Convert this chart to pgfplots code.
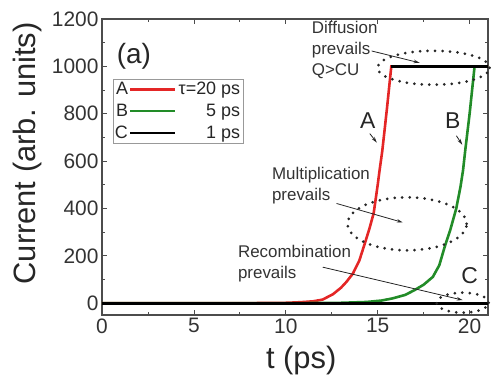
\documentclass[border=0pt]{standalone}
\usepackage{fontspec}
\setmainfont{Liberation Sans}
\usepackage{pgfplots}
\pgfplotsset{compat=1.18}
\usetikzlibrary{arrows.meta}
\definecolor{cA}{RGB}{228,38,38}
\definecolor{cB}{RGB}{34,140,40}
\begin{document}
\begin{tikzpicture}
\begin{axis}[
 scale only axis, width=386bp, height=296bp,
 xmin=0, xmax=21, ymin=-50, ymax=1200,
 xtick={0,5,10,15,20}, ytick={0,200,400,600,800,1000,1200},
 minor x tick num=1, minor y tick num=1,
 tick align=inside, major tick length=5bp, minor tick length=3bp,
 axis line style={line width=1.2bp, draw=black!70},
 every tick/.style={black!70, line width=0.8bp},
 tick label style={font=\fontsize{21}{24}\selectfont, text=black!80},
 /pgf/number format/assume math mode=true,
 /pgf/number format/1000 sep={},
 xlabel={t (ps)}, ylabel={Current (arb. units)},
 label style={font=\fontsize{31}{34}\selectfont, text=black!85},
 xlabel style={at={(axis description cs:0.516,-0.155)}, anchor=center},
 ylabel style={at={(axis description cs:-0.194,0.546)}, anchor=center},
 clip=false,
 legend style={at={(axis cs:0.58,947)}, anchor=north west, draw=black!40, line width=0.6bp,
   font=\fontsize{18}{20}\selectfont, inner sep=1bp, row sep=4bp, text=black!85},
 legend cell align=right,
]
\addplot[cA, line width=2.6bp, legend image code/.code={\node[anchor=east, text=black!85, inner sep=1bp, font=\fontsize{18}{20}\selectfont] at (0bp,0bp) {A}; \draw[cA, line width=2.6bp] (0bp,0bp) -- (45bp,0bp);}] coordinates {
(0,0) (9,0.5) (10,1.5) (10.5,3) (11,5) (11.5,8) (12,15) (12.57,38) (13,65) (13.3,90) (13.65,125) (14,180) (14.33,260) (14.55,315) (14.78,380) (15.0,500) (15.1,560) (15.25,644) (15.5,820) (15.74,1000) (21,1000)};
\addlegendentry{τ=20 ps}
\addplot[cB, line width=2.6bp, legend image code/.code={\node[anchor=east, text=black!85, inner sep=1bp, font=\fontsize{18}{20}\selectfont] at (0bp,0bp) {B}; \draw[cB, line width=2.6bp] (0bp,0bp) -- (45bp,0bp);}] coordinates {
(0,0) (12,0.5) (13,1.5) (14.4,5) (15.2,11) (15.8,20) (16.5,35) (17,55) (17.5,78) (18,111) (18.35,160) (18.64,237) (18.95,310) (19.27,399) (19.5,490) (19.64,560) (19.76,644) (20,800) (20.27,1000) (21,1000)};
\addlegendentry{5 ps}
\addplot[black, line width=3bp, legend image code/.code={\node[anchor=east, text=black!85, inner sep=1bp, font=\fontsize{18}{20}\selectfont] at (0bp,0bp) {C}; \draw[black, line width=2.6bp] (0bp,0bp) -- (45bp,0bp);}] coordinates {(0,0) (21,0)};
\addlegendentry{1 ps}
\addplot[black, line width=2.6bp, forget plot] coordinates {(15.74,1000) (21,1000)};
% annotations
\tikzset{dots/.style={line width=3bp, dash pattern=on 0bp off 7.5bp, line cap=round, black!85},
  ann/.style={font=\fontsize{17}{21}\selectfont, align=left, text=black!80, inner sep=0pt},
  arr/.style={black!85, line width=0.8bp, -{Stealth[length=6bp,width=3.5bp]}}}
\node[font=\fontsize{28}{30}\selectfont, text=black!85] at (axis cs:1.74,1044) {(a)};
\draw[dots] (axis cs:18.04,994) ellipse [x radius=56bp, y radius=17bp];
\draw[dots] (axis cs:16.6,335) ellipse [x radius=59.5bp, y radius=26.5bp];
\draw[dots] (axis cs:19.62,2) ellipse [x radius=26bp, y radius=10bp];
\node[ann, anchor=north west] at (axis cs:11.41,1192) {Diffusion\\prevails\\Q>CU};
\draw[arr] (axis cs:14.67,1065) -- (axis cs:17.28,1015);
\node[ann, anchor=north west] at (axis cs:9.24,573) {Multiplication\\prevails};
\draw[arr] (axis cs:12.76,421) -- (axis cs:16.36,341);
\node[ann, anchor=north west] at (axis cs:7.39,244) {Recombination\\prevails};
\draw[arr] (axis cs:12.01,152) -- (axis cs:19.62,13);
\node[font=\fontsize{23}{25}\selectfont, text=black!85] at (axis cs:14.46,771) {A};
\node[font=\fontsize{23}{25}\selectfont, text=black!85] at (axis cs:19.08,771) {B};
\node[font=\fontsize{23}{25}\selectfont, text=black!85] at (axis cs:20.0,118) {C};
\draw[arr] (axis cs:14.57,716) -- (axis cs:14.95,678);
\draw[arr] (axis cs:19.28,707) -- (axis cs:19.6,669);
\end{axis}
\pgfresetboundingbox
\path[use as bounding box] (-102bp,-69bp) rectangle (389bp,315bp);
\end{tikzpicture}
\end{document}
